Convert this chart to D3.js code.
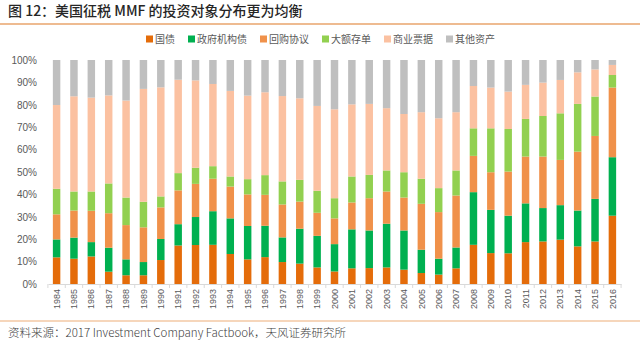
<!DOCTYPE html>
<html>
<head>
<meta charset="utf-8">
<script src="https://cdn.jsdelivr.net/npm/d3@7"></script>
<style>
  body { margin: 0; background: #fff; }
  svg { display: block; font-family: "Noto Sans CJK SC", "Liberation Sans", sans-serif; }
</style>
</head>
<body>
<div class="canvas"></div>
<script>
// sizes
const w = 640;
const h = 342;
const margin = { top: 60, right: 19, bottom: 58, left: 48 };
const plotBottom = 284;

// years on the x axis
const years = [1984, 1985, 1986, 1987, 1988, 1989, 1990, 1991, 1992, 1993, 1994, 1995, 1996, 1997, 1998, 1999,
  2000, 2001, 2002, 2003, 2004, 2005, 2006, 2007, 2008, 2009, 2010, 2011, 2012, 2013, 2014, 2015, 2016];

// share of assets (%), one array per asset type
const treasury = [11.9, 11.3, 12.3, 5.5, 3.9, 3.9, 10.7, 17.2, 17.4, 17.5, 13.4, 11.0, 12.0, 9.8, 9.1, 7.4,
  5.6, 7.0, 7.1, 7.4, 6.4, 4.9, 4.2, 7.0, 17.5, 13.8, 13.7, 18.7, 19.0, 19.8, 16.8, 19.0, 30.5];
const agency = [8.0, 9.4, 6.4, 10.7, 7.1, 5.9, 9.4, 9.5, 12.5, 15.0, 15.9, 14.9, 14.0, 11.0, 15.6, 14.1,
  12.2, 17.4, 16.8, 19.5, 17.5, 10.4, 7.1, 9.3, 23.5, 19.3, 16.8, 17.3, 14.9, 15.4, 16.0, 19.0, 26.1];
const repo = [11.2, 12.1, 14.0, 15.4, 15.3, 15.5, 14.1, 15.1, 14.8, 14.5, 14.2, 14.1, 13.8, 14.7, 12.1, 10.3,
  11.5, 12.0, 14.4, 14.4, 14.7, 20.5, 20.8, 23.2, 16.2, 16.8, 19.7, 20.9, 23.0, 20.2, 26.3, 28.1, 31.1];
const cds = [11.4, 8.5, 8.6, 13.3, 12.3, 11.4, 4.9, 7.7, 7.2, 5.6, 4.5, 6.8, 8.8, 10.3, 9.7, 9.8,
  9.0, 11.6, 10.4, 9.4, 11.3, 11.2, 10.7, 11.2, 12.3, 19.6, 19.0, 16.8, 18.1, 20.8, 21.3, 17.6, 5.6];
const commercialPaper = [37.4, 42.5, 41.9, 39.3, 43.3, 50.4, 48.7, 41.7, 39.0, 36.7, 38.2, 37.3, 37.0, 38.1, 36.4, 37.9,
  39.7, 32.2, 31.7, 27.8, 26.0, 29.7, 31.2, 26.0, 18.9, 18.2, 16.7, 15.2, 14.9, 14.9, 14.1, 12.1, 4.5];
const otherAssets = [20.1, 16.2, 16.8, 15.8, 18.1, 12.9, 12.2, 8.8, 9.1, 10.7, 13.8, 15.9, 14.4, 16.1, 17.1, 20.5,
  22.0, 19.8, 19.6, 21.5, 24.1, 23.3, 26.0, 23.3, 11.6, 12.3, 14.1, 11.1, 10.1, 8.9, 5.5, 4.2, 2.2];

// series names and colours, bottom to top
const seriesNames = ["国债", "政府机构债", "回购协议", "大额存单", "商业票据", "其他资产"];
const seriesValues = [treasury, agency, repo, cds, commercialPaper, otherAssets];
const seriesColors = ["#e46c0a", "#00b050", "#f0914a", "#92d050", "#fbc1a1", "#bfbfbf"];
const yTicks = [0, 10, 20, 30, 40, 50, 60, 70, 80, 90, 100];

const rows = years.map((year, i) => {
  const row = { year };
  seriesNames.forEach((name, k) => { row[name] = seriesValues[k][i]; });
  return row;
});

const svg = d3.select(".canvas").append("svg").attr("width", w).attr("height", h);

// title and rules
svg.append("text")
  .attr("x", 8)
  .attr("y", 16)
  .attr("font-size", 14)
  .attr("font-weight", 500)
  .attr("fill", "#262626")
  .text("图 12：美国征税 MMF 的投资对象分布更为均衡");

svg.append("line")
  .attr("x1", 0).attr("x2", w)
  .attr("y1", 24).attr("y2", 24)
  .attr("stroke", "#e8a46c")
  .attr("stroke-width", 1.5);

svg.append("line")
  .attr("x1", 0).attr("x2", w)
  .attr("y1", 321).attr("y2", 321)
  .attr("stroke", "#f3c9a4")
  .attr("stroke-width", 1.5);

svg.append("text")
  .attr("x", 8)
  .attr("y", 337)
  .attr("font-size", 11.5)
  .attr("font-weight", 300)
  .attr("fill", "#404040")
  .text("资料来源：2017 Investment Company Factbook，天风证券研究所");

// scales
const xScale = d3.scaleBand()
  .domain(years)
  .range([margin.left, w - margin.right])
  .paddingInner(0.57)
  .paddingOuter(0.28);

const yScale = d3.scaleLinear()
  .domain([0, 100])
  .range([plotBottom, margin.top]);

const colorScale = d3.scaleOrdinal().domain(seriesNames).range(seriesColors);

const stacked = d3.stack().keys(seriesNames)(rows);

// bars
svg.append("g")
  .selectAll("g")
  .data(stacked)
  .enter()
  .append("g")
  .attr("fill", d => colorScale(d.key))
  .selectAll("rect")
  .data(d => d)
  .enter()
  .append("rect")
  .attr("x", d => xScale(d.data.year))
  .attr("y", d => yScale(d[1]))
  .attr("width", xScale.bandwidth())
  .attr("height", d => yScale(d[0]) - yScale(d[1]));

// y axis labels only
const yAxis = d3.axisLeft(yScale)
  .tickValues(yTicks)
  .tickFormat(d => d + "%")
  .tickSize(0)
  .tickPadding(0);
const yG = svg.append("g")
  .attr("transform", `translate(${margin.left - 11}, 0)`)
  .call(yAxis);
yG.select(".domain").remove();
yG.selectAll("text")
  .attr("font-size", 10)
  .attr("fill", "#595959")
  .attr("font-family", "Liberation Sans, sans-serif");

// x axis: line, ticks between bars, rotated year labels
const xG = svg.append("g")
  .attr("transform", `translate(0, ${plotBottom})`)
  .call(d3.axisBottom(xScale).tickSize(0).tickPadding(4));
xG.select(".domain").attr("stroke", "#d9d9d9");
xG.selectAll("text")
  .attr("font-size", 9)
  .attr("fill", "#595959")
  .attr("font-family", "Liberation Sans, sans-serif")
  .attr("transform", "rotate(-90)")
  .attr("text-anchor", "end")
  .attr("dy", "0.35em")
  .attr("x", -5)
  .attr("y", 0);

const step = xScale.step();
xG.selectAll(".sep")
  .data(years.concat([null]))
  .enter()
  .append("line")
  .attr("class", "sep")
  .attr("x1", (d, i) => xScale(years[0]) - (step - xScale.bandwidth()) / 2 + i * step)
  .attr("x2", (d, i) => xScale(years[0]) - (step - xScale.bandwidth()) / 2 + i * step)
  .attr("y1", 0)
  .attr("y2", 4)
  .attr("stroke", "#d9d9d9");

// legend
const legend = svg.append("g").attr("transform", "translate(146, 39)");
let lx = 0;
seriesNames.forEach((name, i) => {
  const item = legend.append("g").attr("transform", `translate(${lx}, 0)`);
  item.append("rect")
    .attr("x", 0).attr("y", -3.5)
    .attr("width", 7).attr("height", 7)
    .attr("fill", seriesColors[i]);
  const t = item.append("text")
    .attr("x", 9)
    .attr("dy", "0.35em")
    .attr("font-size", 10)
    .attr("fill", "#595959")
    .text(name);
  lx += 9 + t.node().getComputedTextLength() + 13;
});
</script>
</body>
</html>
